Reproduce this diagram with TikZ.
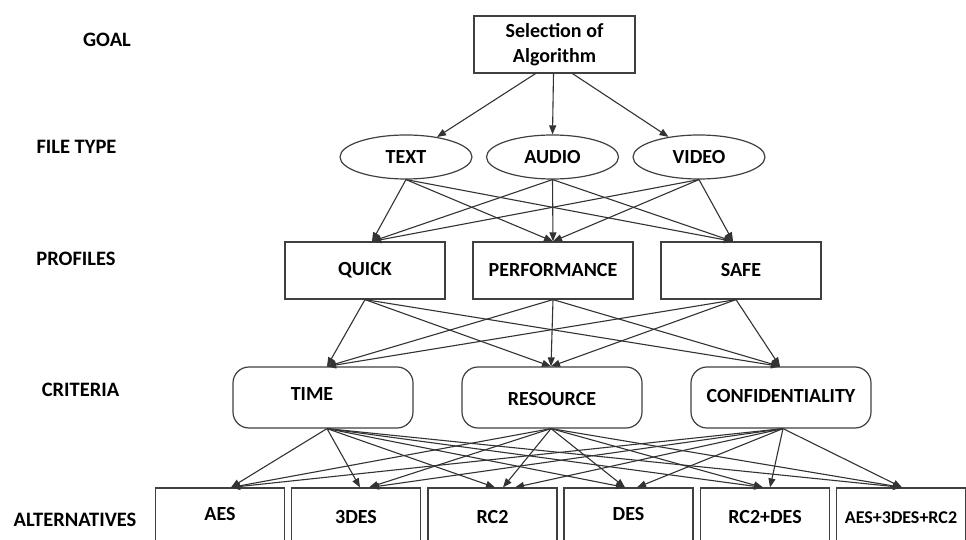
\documentclass[tikz,border=0pt]{standalone}
\usepackage{fontspec}
\setmainfont{Carlito}
\usetikzlibrary{arrows.meta,shapes.geometric}
\begin{document}
\begin{tikzpicture}[x=1pt,y=-1pt,
  txt/.style={font=\bfseries\fontsize{20}{25}\selectfont, text=black},
  lbl/.style={font=\bfseries\fontsize{20.5}{25}\selectfont, text=black, inner sep=0pt},
  goalbox/.style={txt, draw=black!75, line width=1.2pt, rectangle, minimum width=161pt, minimum height=57pt, inner sep=0pt, align=center},
  filebox/.style={txt, draw=black!75, line width=1.2pt, ellipse, minimum width=132pt, minimum height=44pt, inner sep=0pt},
  profbox/.style={txt, draw=black!75, line width=1.2pt, rectangle, minimum width=160pt, minimum height=57pt, inner sep=0pt},
  critbox/.style={txt, draw=black!75, line width=1.2pt, rectangle, rounded corners=16pt, minimum width=180pt, minimum height=61pt, inner sep=0pt, text height=14pt, text depth=4pt},
  altbox/.style={txt, draw=black!75, line width=1.2pt, rectangle, minimum width=129pt, minimum height=60pt, inner sep=0pt, text height=14pt, text depth=4pt},
  conn/.style={draw=black!80, line width=1.1pt, -{Triangle[length=9pt,width=7pt]}}
]
\clip (0,0) rectangle (966,540);
\fill[white] (0,0) rectangle (966,540);

% level labels
\node[lbl] (lgoal) at (107,40) {GOAL};
\node[lbl] (lfile) at (76.5,147) {FILE TYPE};
\node[lbl] (lprof) at (76,259) {PROFILES};
\node[lbl] (lcrit) at (80.5,390) {CRITERIA};
\node[lbl] (lalt) at (75,520) {ALTERNATIVES};

% goal
\node[goalbox] (goal) at (554.5,44.5) {Selection of\\Algorithm};

% file types
\node[filebox] (text) at (406,157) {TEXT};
\node[filebox] (audio) at (552.5,157) {AUDIO};
\node[filebox] (video) at (699,157) {VIDEO};

% profiles
\node[profbox] (quick) at (365,270.5) {QUICK};
\node[profbox] (perf) at (553,270.5) {PERFORMANCE};
\node[profbox] (safe) at (741,270.5) {SAFE};

% criteria
\node[critbox] (time) at (323,397.5) {\raisebox{2pt}{TIME}\hspace*{22pt}};
\node[critbox] (res) at (552,397.5) {\raisebox{-3pt}{RESOURCE}};
\node[critbox] (conf) at (781,397.5) {CONFIDENTIALITY};

% alternatives
\node[altbox] (aes) at (220,518) {\raisebox{3pt}{AES}};
\node[altbox] (tdes) at (356,518) {3DES};
\node[altbox] (rc) at (492.5,518) {RC2};
\node[altbox] (des) at (628.5,518) {\raisebox{3pt}{DES}};
\node[altbox] (rcdes) at (765,518) {RC2+DES};
\node[altbox, font=\bfseries\fontsize{18}{22}\selectfont] (all) at (901,518) {AES+3DES+RC2};

% goal -> file types
\draw[conn] ([xshift=-19pt]goal.south) -- (text);
\draw[conn] ([xshift=-1pt]goal.south) -- (audio.north);
\draw[conn] ([xshift=18pt]goal.south) -- (video);

% file types -> profiles
\foreach \s in {text,audio,video}{
  \draw[conn] (\s.south) -- ([xshift=7pt]quick.north);
  \draw[conn] (\s.south) -- (perf.north);
  \draw[conn] (\s.south) -- ([xshift=-8pt]safe.north);
}

% profiles -> criteria
\foreach \s/\d in {quick/0pt,perf/0pt,safe/-5pt}{
  \draw[conn] ([xshift=\d]\s.south) -- ([xshift=4pt]time.north);
  \draw[conn] ([xshift=\d]\s.south) -- ([xshift=-1pt]res.north);
  \draw[conn] ([xshift=\d]\s.south) -- ([xshift=-1pt]conf.north);
}

% criteria -> alternatives
\draw[conn] ([xshift=4pt]time.south) -- ([xshift=11pt]aes.north);
\draw[conn] ([xshift=4pt]time.south) -- ([xshift=4pt]tdes.north);
\draw[conn] ([xshift=4pt]time.south) -- ([xshift=2.5pt]rc.north);
\draw[conn] ([xshift=4pt]time.south) -- ([xshift=-3.5pt]des.north);
\draw[conn] ([xshift=4pt]time.south) -- ([xshift=-2pt]rcdes.north);
\draw[conn] ([xshift=4pt]time.south) -- ([xshift=1pt]all.north);

\draw[conn] ([xshift=-1pt]res.south) -- ([xshift=11pt]aes.north);
\draw[conn] ([xshift=-1pt]res.south) -- ([xshift=13pt]tdes.north);
\draw[conn] ([xshift=-1pt]res.south) -- ([xshift=10.5pt]rc.north);
\draw[conn] ([xshift=-1pt]res.south) -- ([xshift=-3.5pt]des.north);
\draw[conn] ([xshift=-1pt]res.south) -- ([xshift=-2pt]rcdes.north);
\draw[conn] ([xshift=-1pt]res.south) -- ([xshift=1pt]all.north);

\draw[conn] ([xshift=2pt]conf.south) -- ([xshift=11pt]aes.north);
\draw[conn] ([xshift=2pt]conf.south) -- ([xshift=14pt]tdes.north);
\draw[conn] ([xshift=2pt]conf.south) -- ([xshift=22.5pt]rc.north);
\draw[conn] ([xshift=2pt]conf.south) -- ([xshift=8.5pt]des.north);
\draw[conn] ([xshift=2pt]conf.south) -- ([xshift=5pt]rcdes.north);
\draw[conn] ([xshift=2pt]conf.south) -- ([xshift=1pt]all.north);
\end{tikzpicture}
\end{document}
